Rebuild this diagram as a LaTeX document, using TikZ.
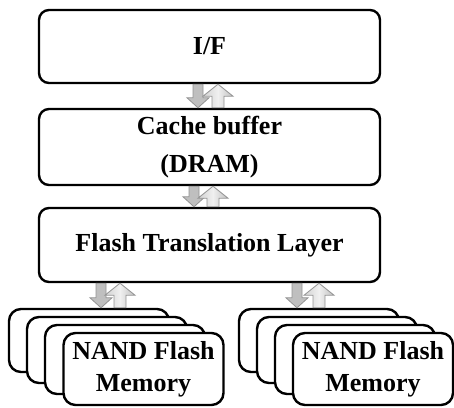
\documentclass[tikz,border=0pt]{standalone}
\usepackage{fontspec}
\setmainfont{Liberation Serif}
\usetikzlibrary{calc}
\newcommand\arrpair[4]{%
  \path[dnarr] let \p1=(#1.south), \p2=(#2.north) in
    (#3pt-5pt,\y1) -- (#3pt+5pt,\y1) -- (#3pt+5pt,\y2+10pt) -- (#3pt+11pt,\y2+10pt)
    -- (#3pt,\y2) -- (#3pt-11pt,\y2+10pt) -- (#3pt-5pt,\y2+10pt) -- cycle;
  \path[uparr] let \p1=(#1.south), \p2=(#2.north) in
    (#4pt-6pt,\y2) -- (#4pt+6pt,\y2) -- (#4pt+6pt,\y1-12pt) -- (#4pt+15pt,\y1-12pt)
    -- (#4pt,\y1) -- (#4pt-15pt,\y1-12pt) -- (#4pt-6pt,\y1-12pt) -- cycle;
}
\begin{document}
\begin{tikzpicture}[x=1pt,y=-1pt,
  box/.style={draw=black, line width=2.4pt, rounded corners=10pt, fill=white,
    inner sep=0pt, align=center, text=black,
    font=\fontsize{26}{32}\selectfont\bfseries},
  nand/.style={box, rounded corners=12pt, minimum width=160pt},
  dnarr/.style={fill=gray!50, draw=gray!85, line width=0.8pt},
  uparr/.style={left color=gray!35, right color=gray!50, middle color=gray!12,
    draw=gray!85, line width=0.8pt}]
\useasboundingbox (0,0) rectangle (454,407);
% main boxes
\node[box, minimum width=341pt, minimum height=73pt] (if) at (209.5,46.5) {I/F};
\node[box, minimum width=341pt, minimum height=76pt,
  font=\fontsize{26}{38}\selectfont\bfseries] (cache) at (209.5,147) {Cache buffer\\(DRAM)};
\node[box, minimum width=341pt, minimum height=74pt] (ftl) at (209.5,245) {Flash Translation Layer};
% left stack
\node[nand, minimum height=63pt] (l1) at (89,340.5) {};
\node[nand, minimum height=66pt] (l2) at (107,350) {};
\node[nand, minimum height=69pt] (l3) at (125,359.5) {};
\node[nand, minimum height=72pt] (l4) at (143.5,369) {NAND Flash\\Memory};
% right stack
\node[nand, minimum height=63pt] (r1) at (319,340.5) {};
\node[nand, minimum height=66pt] (r2) at (337,350) {};
\node[nand, minimum height=69pt] (r3) at (355,359.5) {};
\node[nand, minimum height=72pt] (r4) at (373,369) {NAND Flash\\Memory};
% block arrows
\arrpair{if}{cache}{198}{218}
\arrpair{cache}{ftl}{194}{213}
\arrpair{ftl}{l1}{101}{120}
\arrpair{ftl}{r1}{297}{319}
\end{tikzpicture}
\end{document}
